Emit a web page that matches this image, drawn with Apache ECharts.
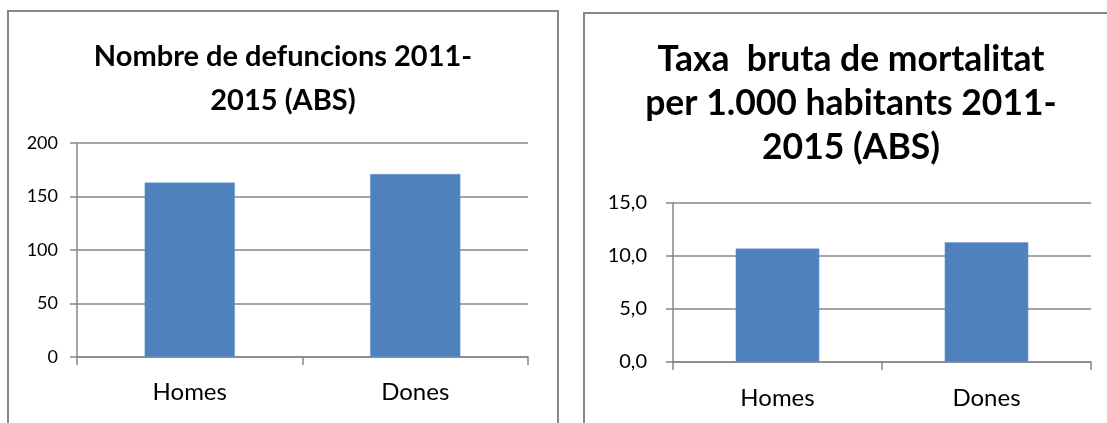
<!DOCTYPE html>
<html>
<head>
<meta charset="utf-8">
<script src="https://cdn.jsdelivr.net/npm/echarts@6/dist/echarts.min.js"></script>
<style>
html,body{margin:0;padding:0;background:#fff;}
#c{width:1107px;height:423px;}
</style>
</head>
<body>
<div id="c"></div>
<script>
const categories = ['Homes', 'Dones'];
const deaths = [163, 171];
const rates = [10.7, 11.3];
const leftTicks = [0, 50, 100, 150, 200];
const rightTicks = [0, 5, 10, 15];
const leftTitle = 'Nombre de defuncions 2011-\n2015 (ABS)';
const rightTitle = 'Taxa  bruta de mortalitat\nper 1.000 habitants 2011-\n2015 (ABS)';

const FONT = 'Lato';
const GRID = '#878787';
const BAR = '#4F81BD';

const chart = echarts.init(document.getElementById('c'), null, {renderer: 'canvas'});

function xAxis(gi, margin) {
  return {
    type: 'category', gridIndex: gi, data: categories,
    axisLine: {lineStyle: {color: GRID, width: 1.5}},
    axisTick: {show: true, length: 8, lineStyle: {color: GRID, width: 1.5}},
    axisLabel: {color: '#000', fontFamily: FONT, fontSize: 24, margin: margin}
  };
}
function yAxis(gi, ticks, fmt, margin, fs) {
  return {
    type: 'value', gridIndex: gi,
    min: ticks[0], max: ticks[ticks.length - 1], interval: ticks[1] - ticks[0],
    axisLine: {show: true, lineStyle: {color: GRID, width: 1.5}},
    axisTick: {show: true, length: 7, lineStyle: {color: GRID, width: 1.5}},
    splitLine: {show: true, lineStyle: {color: GRID, width: 1.5}},
    axisLabel: {color: '#000', fontFamily: FONT, fontSize: fs, margin: margin, formatter: fmt}
  };
}

chart.setOption({
  animation: false,
  textStyle: {fontFamily: FONT},
  title: [
    {text: leftTitle, left: 283, top: 35, textAlign: 'center', padding: 0,
     textStyle: {fontFamily: FONT, fontWeight: 'bold', fontSize: 29, lineHeight: 44, color: '#000'}},
    {text: rightTitle, left: 851, top: 38, textAlign: 'center', padding: 0,
     textStyle: {fontFamily: FONT, fontWeight: 'bold', fontSize: 35.5, lineHeight: 44, color: '#000'}}
  ],
  graphic: [
    {type: 'rect', shape: {x: 8, y: 11, width: 550, height: 600},
     style: {fill: 'none', stroke: GRID, lineWidth: 2}},
    {type: 'rect', shape: {x: 584, y: 13, width: 560, height: 600},
     style: {fill: 'none', stroke: GRID, lineWidth: 2}}
  ],
  grid: [
    {left: 77, top: 143, width: 451, height: 214},
    {left: 673, top: 203, width: 418, height: 159}
  ],
  xAxis: [xAxis(0, 23), xAxis(1, 24)],
  yAxis: [
    yAxis(0, leftTicks, v => String(v), 19, 18),
    yAxis(1, rightTicks, v => v.toFixed(1).replace('.', ','), 26, 20)
  ],
  series: [
    {type: 'bar', xAxisIndex: 0, yAxisIndex: 0, data: deaths, barWidth: '40%',
     itemStyle: {color: BAR, borderColor: '#6d98cc', borderWidth: 0.5}},
    {type: 'bar', xAxisIndex: 1, yAxisIndex: 1, data: rates, barWidth: '40%',
     itemStyle: {color: BAR, borderColor: '#6d98cc', borderWidth: 0.5}}
  ]
});
</script>
</body>
</html>
